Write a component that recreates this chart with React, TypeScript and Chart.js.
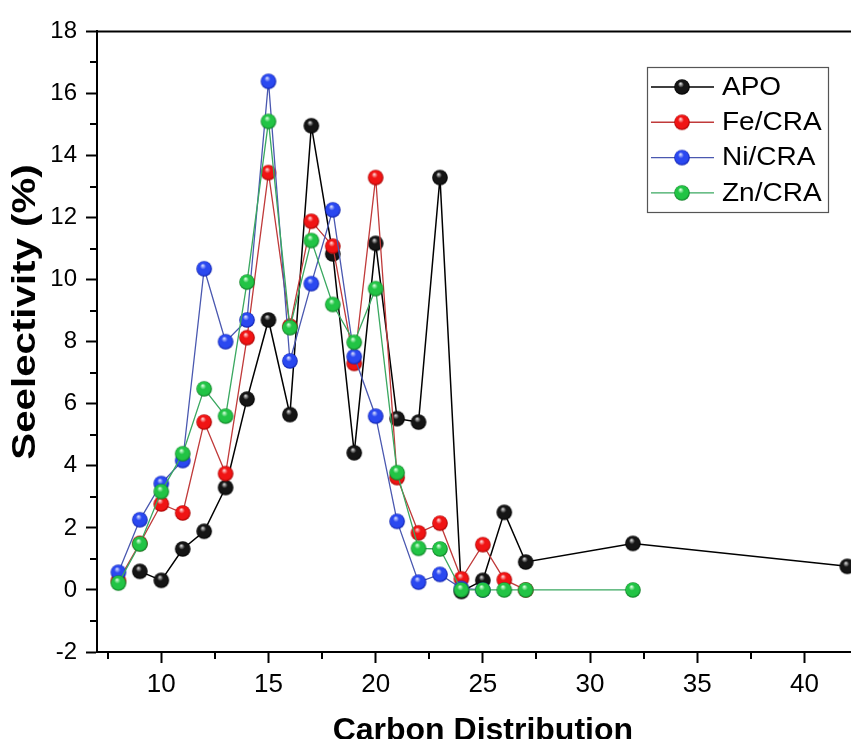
import React, { useEffect, useRef } from "react";
import { Chart, registerables } from "chart.js";

Chart.register(...registerables);

// ---- data ----
const seriesNames = ["APO", "Fe/CRA", "Ni/CRA", "Zn/CRA"];

const carbonAPO = [9, 10, 11, 12, 13, 14, 15, 16, 17, 18, 19, 20, 21, 22, 23, 24, 25, 26, 27, 32, 42];
const selAPO = [0.6, 0.31, 1.32, 1.89, 3.3, 6.15, 8.7, 5.65, 14.96, 10.83, 4.42, 11.17, 5.52, 5.41, 13.29, -0.05, 0.31, 2.5, 0.9, 1.5, 0.76];

const carbonFe = [8, 9, 10, 11, 12, 13, 14, 15, 16, 17, 18, 19, 20, 21, 22, 23, 24, 25, 26, 27];
const selFe = [0.3, 1.5, 2.77, 2.48, 5.41, 3.75, 8.13, 13.45, 8.5, 11.88, 11.08, 7.3, 13.29, 3.62, 1.84, 2.15, 0.36, 1.46, 0.33, 0];

const carbonNi = [8, 9, 10, 11, 12, 13, 14, 15, 16, 17, 18, 19, 20, 21, 22, 23, 24, 25];
const selNi = [0.57, 2.26, 3.43, 4.17, 10.35, 8.0, 8.7, 16.39, 7.38, 9.87, 12.25, 7.52, 5.6, 2.21, 0.25, 0.5, 0.05, 0.0];

const carbonZn = [8, 9, 10, 11, 12, 13, 14, 15, 16, 17, 18, 19, 20, 21, 22, 23, 24, 25, 26, 27, 32];
const selZn = [0.22, 1.48, 3.17, 4.39, 6.48, 5.6, 9.92, 15.1, 8.45, 11.26, 9.2, 7.98, 9.71, 3.78, 1.34, 1.32, 0, 0, 0, 0, 0];

const xMajorTicks = [10, 15, 20, 25, 30, 35, 40];
const xMinorTicks = [7.5, 12.5, 17.5, 22.5, 27.5, 32.5, 37.5, 42.5];
const yMajorTicks = [-2, 0, 2, 4, 6, 8, 10, 12, 14, 16, 18];
const yMinorTicks = [-1, 1, 3, 5, 7, 9, 11, 13, 15, 17];

const xTitle = "Carbon Distribution";
const yTitle = "Seelectivity (%)";

const FONT = "'Liberation Sans', Arial, sans-serif";

function makeSphere(light: string, base: string, dark: string, r: number) {
  const c = document.createElement("canvas");
  const s = Math.ceil(r * 2 + 2);
  c.width = s;
  c.height = s;
  const ctx = c.getContext("2d")!;
  const cx = s / 2;
  const cy = s / 2;
  const g = ctx.createRadialGradient(cx - r * 0.2, cy - r * 0.45, r * 0.05, cx, cy, r);
  g.addColorStop(0, light);
  g.addColorStop(0.35, base);
  g.addColorStop(0.8, base);
  g.addColorStop(1, dark);
  ctx.fillStyle = g;
  ctx.beginPath();
  ctx.arc(cx, cy, r, 0, Math.PI * 2);
  ctx.fill();
  return c;
}

const toPoints = (xs: number[], ys: number[]) => xs.map((x, i) => ({ x, y: ys[i] }));

const frameAndMinor = {
  id: "frameAndMinor",
  afterDraw(chart: any, _a: any, opts: any) {
    const { ctx, chartArea, scales } = chart;
    ctx.save();
    ctx.strokeStyle = "#000";
    ctx.lineWidth = 2;
    // top frame
    ctx.beginPath();
    ctx.moveTo(chartArea.left - 1, chartArea.top);
    ctx.lineTo(chartArea.right + 1, chartArea.top);
    ctx.stroke();
    // minor ticks
    ctx.beginPath();
    xMinorTicks.forEach((v) => {
      const px = Math.round(scales.x.getPixelForValue(v));
      ctx.moveTo(px, chartArea.bottom);
      ctx.lineTo(px, chartArea.bottom + 7);
    });
    yMinorTicks.forEach((v) => {
      const py = Math.round(scales.y.getPixelForValue(v));
      ctx.moveTo(chartArea.left, py);
      ctx.lineTo(chartArea.left - 7, py);
    });
    ctx.stroke();
    // y axis title
    ctx.translate(opts.yTitleX, opts.yTitleY);
    ctx.rotate(-Math.PI / 2);
    ctx.scale(opts.yTitleStretch, 1);
    ctx.fillStyle = "#000";
    ctx.font = `bold ${opts.yTitleSize}px ${FONT}`;
    ctx.textAlign = "center";
    ctx.textBaseline = "middle";
    ctx.fillText(yTitle, 0, 0);
    ctx.restore();
  },
};

const boxLegend = {
  id: "boxLegend",
  afterDraw(chart: any, _args: any, opts: any) {
    const { ctx } = chart;
    const { left, top, width, height, rowStart, rowGap } = opts;
    ctx.save();
    ctx.fillStyle = "#fff";
    ctx.fillRect(left, top, width, height);
    ctx.strokeStyle = "#555";
    ctx.lineWidth = 1.2;
    ctx.strokeRect(left + 0.5, top + 0.5, width, height);
    chart.data.datasets.forEach((ds: any, i: number) => {
      const y = top + rowStart + i * rowGap;
      ctx.strokeStyle = ds.borderColor;
      ctx.lineWidth = 1.4;
      ctx.beginPath();
      ctx.moveTo(left + 4, y);
      ctx.lineTo(left + 67, y);
      ctx.stroke();
      const img = ds.pointStyle;
      ctx.drawImage(img, left + 35 - img.width / 2, y - img.height / 2);
      ctx.save();
      ctx.translate(left + 75, y + 1);
      ctx.scale(1.12, 1);
      ctx.fillStyle = "#000";
      ctx.font = `25px ${FONT}`;
      ctx.textBaseline = "middle";
      ctx.textAlign = "left";
      ctx.fillText(ds.label, 0, 0);
      ctx.restore();
    });
    ctx.restore();
  },
};

export default function App() {
  const ref = useRef<HTMLCanvasElement | null>(null);

  useEffect(() => {
    document.documentElement.style.overflow = "hidden";
    const R = 7.8;
    const spheres = [
      makeSphere("#d8d8d8", "#151515", "#000000", R),
      makeSphere("#ffd6d6", "#f01414", "#a00000", R),
      makeSphere("#d6dcff", "#2a48f0", "#0a1ca8", R),
      makeSphere("#d6ffdc", "#22c445", "#0c7a22", R),
    ];
    const lineColors = ["#000000", "#c03a3a", "#4a58b0", "#3aa860"];
    const pts = [
      toPoints(carbonAPO, selAPO),
      toPoints(carbonFe, selFe),
      toPoints(carbonNi, selNi),
      toPoints(carbonZn, selZn),
    ];
    const orders = [3, 2, 1, 0];
    const chart = new Chart(ref.current!, {
      type: "line",
      data: {
        datasets: seriesNames.map((name, i) => ({
          label: name,
          data: pts[i],
          borderColor: lineColors[i],
          backgroundColor: lineColors[i],
          borderWidth: i === 0 ? 1.5 : 1.3,
          pointStyle: spheres[i] as any,
          pointRadius: R,
          tension: 0,
          order: orders[i],
          clip: false as any,
        })),
      },
      options: {
        responsive: false,
        animation: false,
        devicePixelRatio: 1,
        layout: { padding: { top: 20, right: 4.5, bottom: 0, left: 0 } },
        plugins: {
          legend: { display: false },
          tooltip: { enabled: false },
          boxLegend: { left: 639, top: 59, width: 181, height: 145, rowStart: 20, rowGap: 35.3 },
          frameAndMinor: { yTitleX: 18, yTitleY: 304, yTitleSize: 33, yTitleStretch: 1.22 },
        } as any,
        scales: {
          x: {
            type: "linear",
            min: 7,
            max: 43,
            afterFit: (s: any) => {
              s.height = 95;
            },
            afterBuildTicks: (s: any) => {
              s.ticks = xMajorTicks.map((v) => ({ value: v }));
            },
            grid: {
              display: true,
              drawOnChartArea: false,
              drawTicks: true,
              tickLength: 11,
              tickWidth: 2,
              tickColor: "#000",
            },
            border: { display: true, color: "#000", width: 2 },
            ticks: {
              color: "#000",
              font: { family: FONT, size: 26 },
              padding: 6,
              maxRotation: 0,
            },
            title: {
              display: true,
              text: xTitle,
              color: "#000",
              font: { family: FONT, size: 32, weight: "bold", lineHeight: 1 },
              padding: { top: 0, bottom: 0 },
            },
          },
          y: {
            type: "linear",
            min: -2,
            max: 18,
            afterFit: (s: any) => {
              s.width = 89;
            },
            afterBuildTicks: (s: any) => {
              s.ticks = yMajorTicks.map((v) => ({ value: v }));
            },
            grid: {
              display: true,
              drawOnChartArea: false,
              drawTicks: true,
              tickLength: 11,
              tickWidth: 2,
              tickColor: "#000",
            },
            border: { display: true, color: "#000", width: 2 },
            ticks: {
              color: "#000",
              font: { family: FONT, size: 24 },
              padding: 9,
            },
            title: { display: false },
          },
        },
      },
      plugins: [frameAndMinor, boxLegend],
    });
    return () => chart.destroy();
  }, []);

  return (
    <div style={{ width: 851, height: 739, overflow: "hidden", marginBottom: -8 }}>
      <canvas ref={ref} width={870} height={739} style={{ display: "block" }} />
    </div>
  );
}
